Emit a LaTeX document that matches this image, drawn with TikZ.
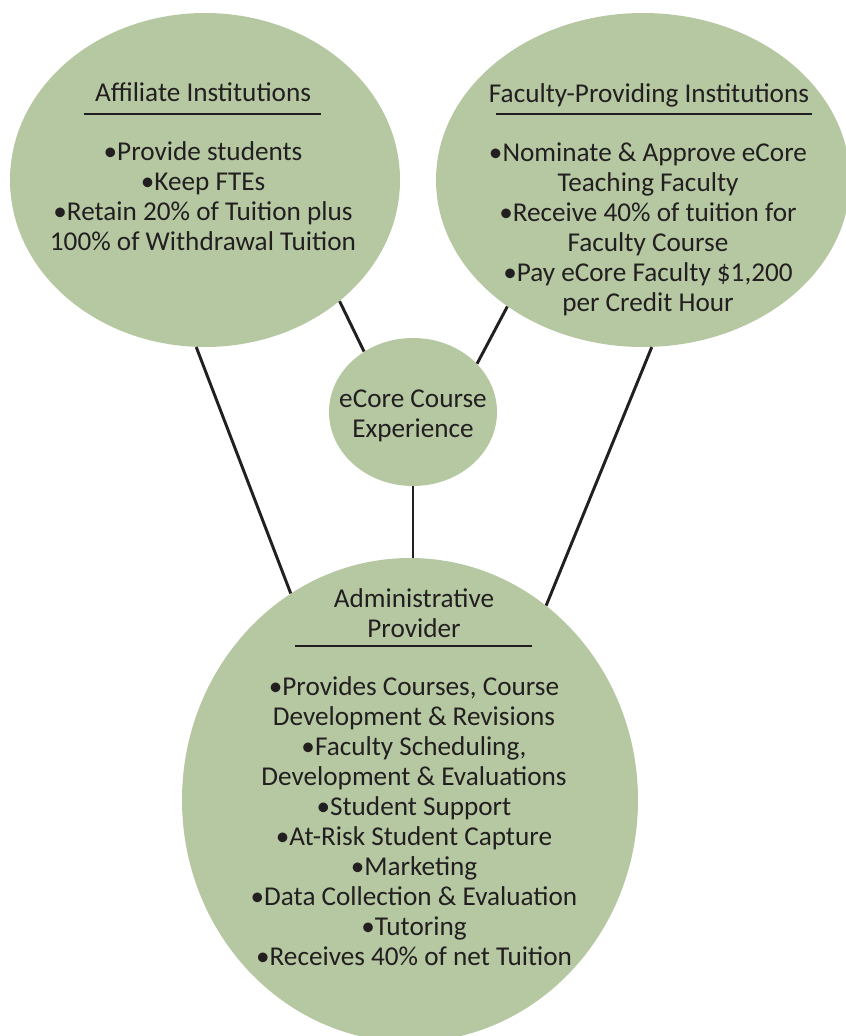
\documentclass[tikz,border=0pt]{standalone}
\usepackage{fontspec}
\setmainfont{Carlito}
\usetikzlibrary{shapes.geometric}

\definecolor{sage}{RGB}{181,200,162}
\definecolor{ink}{RGB}{35,31,32}

\begin{document}
\begin{tikzpicture}[x=0.75pt, y=-0.75pt,
    every node/.style={font=\fontsize{20.4}{22.5}\selectfont, text=ink, inner sep=0pt},
    blob/.style={ellipse, fill=sage, draw=none},
    link/.style={ink, line width=2.2pt},
    rulebar/.style={ink, line width=1pt}]
	% Frame
	\clip (0,0) rectangle (846,1036);

	% Ellipses
	\node[blob, minimum width=292.5pt, minimum height=250.5pt] (aff) at (205,180) {};
	\node[blob, minimum width=310.5pt, minimum height=250.5pt] (fac) at (643,180) {};
	\node[blob, minimum width=126pt, minimum height=111pt] (eco) at (413,412) {};
	\node[blob, minimum width=342pt, minimum height=363pt] (adm) at (410,800) {};

	% Connectors
	\draw[link] (aff.-93) -- (adm.120);
	\draw[link] (aff.-42) -- (eco.129);
	\draw[link] (fac.-137) -- (eco.37);
	\draw[link] (fac.-87) -- (adm.55);
	\draw[link] (eco.south) -- (eco.south |- adm.north);

	% Affiliate Institutions
	\node (affTitle) at (203,92) {Affiliate Institutions};
	\draw[rulebar] (84,114) -- (321,114);
	\node[align=center] (affList) at (203,196) {\textbullet Provide students\\ \textbullet Keep FTEs\\ \textbullet Retain 20\% of Tuition plus\\ 100\% of Withdrawal Tuition};

	% Faculty-Providing Institutions
	\node (facTitle) at (649,95) {Faculty-Providing Institutions};
	\draw[rulebar] (496,114) -- (812,114);
	\node[align=center] (facList) at (648,229) {\textbullet Nominate \& Approve eCore\\ Teaching Faculty\\ \textbullet Receive 40\% of tuition for\\ Faculty Course\\ \textbullet Pay eCore Faculty \$1,200\\ per Credit Hour};

	% eCore Course Experience
	\node[align=center] (ecoText) at (413,416) {eCore Course\\ Experience};

	% Administrative Provider
	\node[align=center] (admTitle) at (414,613) {Administrative\\ Provider};
	\draw[rulebar] (295,646) -- (532,646);
	\node[align=center] (admList) at (414,821) {\textbullet Provides Courses, Course\\ Development \& Revisions\\ \textbullet Faculty Scheduling,\\ Development \& Evaluations\\ \textbullet Student Support\\ \textbullet At-Risk Student Capture\\ \textbullet Marketing\\ \textbullet Data Collection \& Evaluation\\ \textbullet Tutoring\\ \textbullet Receives 40\% of net Tuition};
\end{tikzpicture}
\end{document}
